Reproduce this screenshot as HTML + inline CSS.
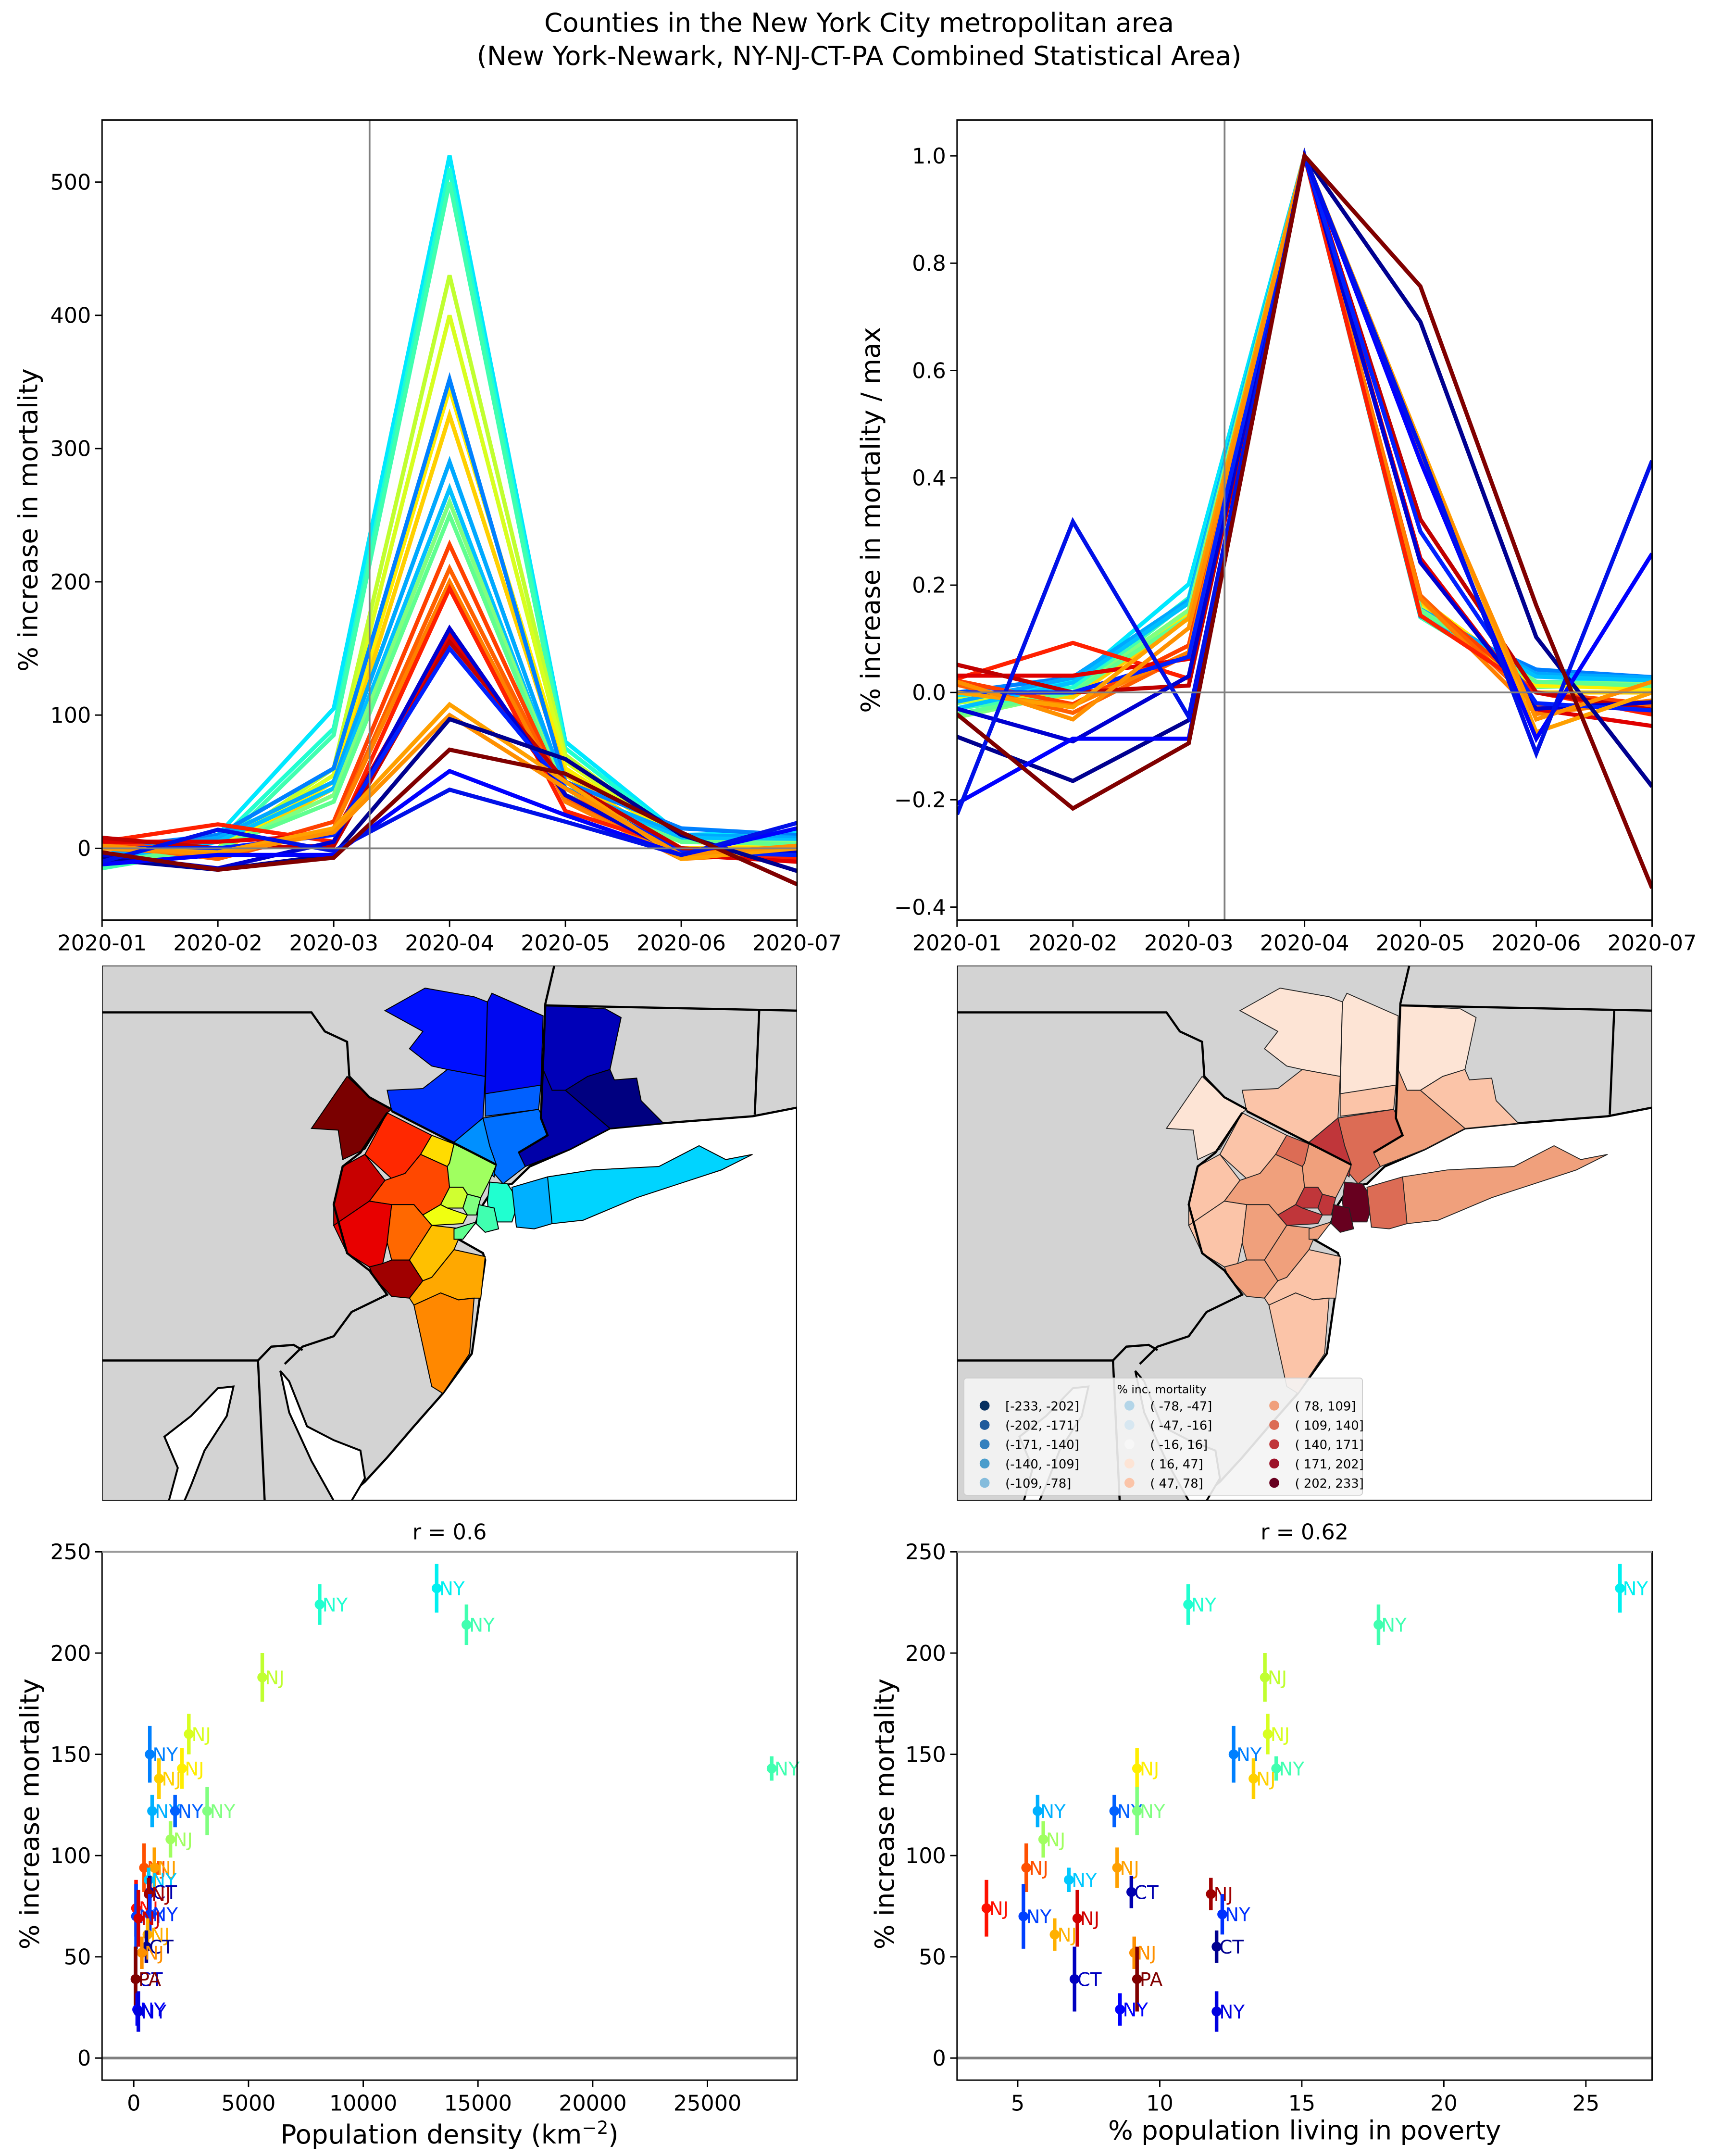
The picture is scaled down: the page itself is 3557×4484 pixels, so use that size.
<!DOCTYPE html>
<html><head><meta charset="utf-8">
<style>
html,body{margin:0;padding:0;background:#fff;}
svg{display:block;}
text{font-family:"DejaVu Sans","Liberation Sans",sans-serif;}
</style></head>
<body>
<svg id="fig" xmlns="http://www.w3.org/2000/svg" width="3557" height="4484" viewBox="0 0 1240 1563" preserveAspectRatio="none">
<rect x="0" y="0" width="1240" height="1563" fill="#fff"/>
<text x="623" y="23" font-size="19" text-anchor="middle">Counties in the New York City metropolitan area</text>
<text x="623" y="47" font-size="19" text-anchor="middle">(New York-Newark, NY-NJ-CT-PA Combined Statistical Area)</text>
<defs>
<clipPath id="clipL"><rect x="74" y="87" width="504" height="580"/></clipPath>
<clipPath id="clipR"><rect x="694" y="87" width="504" height="580"/></clipPath>
<clipPath id="clipM1"><rect x="74" y="700" width="504" height="388"/></clipPath>
<clipPath id="clipM2"><rect x="694" y="700" width="504" height="388"/></clipPath>
</defs>
<g id="gTL"></g>
<g id="gTR"></g>
<g id="gM1" clip-path="url(#clipM1)"></g>
<g id="gM2" clip-path="url(#clipM2)"></g>
<g id="gBL"></g>
<g id="gBR"></g>
</svg>
<script>
// ===== line chart data =====
const months = ["2020-01","2020-02","2020-03","2020-04","2020-05","2020-06","2020-07"];
const yTicksTop = [0,100,200,300,400,500];
const yTicksNorm = [-0.4,-0.2,0.0,0.2,0.4,0.6,0.8,1.0];
const seriesColors = ["#00e8ff","#20ffd0","#40ffb0","#c0ff30","#d8ff20","#ffee00","#ffd000","#0080ff","#00a8ff","#00c0ff","#80ff80","#60ff90","#ff4000","#ff6000","#ff8000","#ff2000","#e00000","#c00000","#0000d0","#0020ff","#ffa000","#ff9000","#000090","#0000ff","#0010e8","#800000"];
const seriesValues = [
 [-5,10,105,520,80,10,12],
 [-10,5,90,510,75,8,10],
 [-15,0,85,500,70,5,8],
 [-8,0,60,430,70,5,5],
 [-5,0,55,400,65,5,3],
 [0,-2,50,345,60,5,2],
 [0,-3,45,325,55,0,0],
 [0,10,60,352,50,15,10],
 [-5,8,50,290,45,10,8],
 [-8,5,45,270,40,8,6],
 [-12,0,40,260,40,5,4],
 [-10,0,35,250,38,5,3],
 [5,-5,20,228,40,0,-5],
 [3,-8,15,210,38,-5,-5],
 [0,-5,15,200,35,-8,-3],
 [5,18,5,195,28,0,-8],
 [5,5,10,160,40,-5,-10],
 [8,0,2,155,50,0,-5],
 [-5,-15,5,165,40,-5,-3],
 [0,0,10,150,45,-3,-5],
 [0,-3,15,108,50,-8,0],
 [2,-5,12,100,45,-5,2],
 [-8,-16,-5,97,67,10,-17],
 [-12,-5,-5,58,25,-5,15],
 [-10,14,-2,44,20,-5,19],
 [-3,-16,-7,74,56,12,-27]
];
// ===== scatter data =====
const density = [13200,8100,14500,5600,2400,700,2100,27800,1100,800,1800,3200,1600,450,900,650,700,650,100,700,100,200,600,550,350,80,80,150,200];
const poverty = [26.2,11.0,17.7,13.7,13.8,12.6,9.2,14.1,13.3,5.7,8.4,9.2,5.9,5.3,8.5,6.8,9.0,11.8,3.9,12.2,5.2,7.1,6.3,12.0,9.1,7.0,9.2,8.6,12.0];
const mortality = [232,224,214,188,160,150,143,143,138,122,122,122,108,94,94,88,82,81,74,71,70,69,61,55,52,39,39,24,23];
const errHalf = [12,10,10,12,10,14,10,6,10,8,8,12,9,12,10,6,8,8,14,10,16,14,8,8,8,16,16,8,10];
const pointColors = ["#00f0f0","#20ffd0","#40ffb0","#c0ff30","#d8ff20","#0080ff","#ffee00","#40ffb0","#ffd000","#00b0ff","#0060ff","#80ff80","#a0ff60","#ff5000","#ffa000","#00c8ff","#0000b0","#a00000","#ff1000","#0030ff","#0040ff","#d00000","#ffb000","#000090","#ff9000","#0000c0","#800000","#0000ff","#0000e0"];
const states = ["NY","NY","NY","NJ","NJ","NY","NJ","NY","NJ","NY","NY","NY","NJ","NJ","NJ","NY","CT","NJ","NJ","NY","NY","NJ","NJ","CT","NJ","CT","PA","NY","NY"];
const densityTicks = [0,5000,10000,15000,20000,25000];
const povertyTicks = [5,10,15,20,25];
const scatterYTicks = [0,50,100,150,200,250];
// ===== map data =====
const countyJet = ["#0010ff","#0008f0","#0030ff","#0060ff","#0090ff","#0070ff","#0000b8","#0000a8","#000080","#7a0000","#ff2800","#c80000","#ff4800","#ffdc00","#a0ff60","#d0ff30","#80ff80","#f0ff10","#e80000","#ff6800","#a00000","#ffc000","#ffa800","#ff8800","#60ff90","#20ffd0","#40ffb0","#00b0ff","#00d4ff"];
const countyMortality = [30,30,60,60,150,122,30,90,60,30,60,60,94,122,94,150,150,150,60,94,94,94,60,60,94,220,220,122,94];

const NS="http://www.w3.org/2000/svg";
function mk(tag,a,parent){const e=document.createElementNS(NS,tag);for(const k in a)e.setAttribute(k,a[k]);parent.appendChild(e);return e;}
function txt(s,a,parent){const e=mk("text",a,parent);e.textContent=s;return e;}
function fmt(v){return (v<0?"\u2212":"")+Math.abs(v).toFixed(1);}

function lineChart(g, x0, clip, yFn, values, ticks, tickFmt, ylabel, ylabX, vline, isNorm){
  const xFn=i=>x0+i*84;
  const lines=mk("g",{"clip-path":"url(#"+clip+")"},g);
  values.forEach((vals,si)=>{
    const peak=vals[3];
    const pts=vals.map((v,i)=>xFn(i).toFixed(1)+","+yFn(isNorm? v/peak : v).toFixed(1)).join(" ");
    const pl=mk("polyline",{points:pts,fill:"none",stroke:seriesColors[si],"stroke-width":3,"stroke-linejoin":"miter"},lines);
    
    
  });
  const zl=mk("line",{x1:x0,x2:x0+504,y1:yFn(0),y2:yFn(0),stroke:"#808080","stroke-width":1.3},g);
  
  
  const vl=mk("line",{x1:vline,x2:vline,y1:87,y2:667,stroke:"#808080","stroke-width":1.3},g);
  
  
  const fr=mk("rect",{x:x0,y:87,width:504,height:580,fill:"none",stroke:"#000","stroke-width":1},g);
  
  
  months.forEach((m,i)=>{
    mk("line",{x1:xFn(i),x2:xFn(i),y1:667,y2:672,stroke:"#000"},g);
    const t=txt(m,{x:xFn(i),y:689,"font-size":15.5,"text-anchor":"middle"},g);
    
    
  });
  ticks.forEach(v=>{
    const y=yFn(v);
    mk("line",{x1:x0-5,x2:x0,y1:y,y2:y,stroke:"#000"},g);
    const t=txt(tickFmt(v),{x:x0-8,y:y+5.5,"font-size":15.5,"text-anchor":"end"},g);
    
    
  });
  const yl=txt(ylabel,{x:0,y:0,"font-size":19,"text-anchor":"middle",transform:"translate("+ylabX+",377) rotate(-90)"},g);
  
  
}
lineChart(document.getElementById("gTL"),74,"clipL",v=>615-v*0.966,seriesValues,yTicksTop,v=>String(v),"% increase in mortality",27,268,false);
lineChart(document.getElementById("gTR"),694,"clipR",v=>502-v*389,seriesValues,yTicksNorm,fmt,"% increase in mortality / max",638,888,true);

const polys=[
 "635,130 725,65 835,90 865,105 860,320 775,300 740,290 690,240 720,190",
 "875,80 990,145 985,350 860,370 865,105",
 "640,360 720,355 775,300 860,320 855,440 790,510 650,420",
 "860,370 985,345 980,415 860,435",
 "790,510 855,440 870,520 885,575 880,610",
 "855,440 980,415 990,440 1000,490 935,540 950,580 900,630 880,600 885,575 870,520",
 "995,115 1130,125 1165,150 1140,300 1090,320 1040,360 1010,360 990,300",
 "990,300 1010,360 1040,360 1140,470 1050,530 950,580 935,540 1000,490 985,440",
 "1040,360 1090,320 1140,300 1150,330 1200,325 1210,390 1260,455 1140,470",
 "470,470 550,320 600,380 650,415 640,425 590,530 540,560 530,475",
 "640,425 740,490 715,545 680,600 650,615 590,545",
 "590,545 635,620 600,680 520,750 520,690 540,580",
 "635,620 680,600 715,545 775,580 780,640 760,690 720,720 700,690 650,690 600,680",
 "715,545 740,490 790,515 780,570 775,580",
 "790,515 885,575 870,620 850,670 820,660 810,640 780,640 775,580 780,570",
 "760,690 780,640 810,640 820,660 810,700 775,700",
 "820,660 850,670 840,720 820,720 810,700",
 "720,720 760,690 775,700 820,720 810,745 740,750",
 "520,750 600,680 650,690 640,800 630,860 600,870 550,830",
 "650,690 700,690 720,720 740,750 720,790 690,850 650,850 640,800",
 "600,870 630,860 650,850 690,850 720,910 690,960 650,955 610,900",
 "690,850 720,790 740,750 810,760 790,820 740,900 720,910",
 "720,910 740,900 790,820 860,840 850,960 830,960 800,965 760,945 700,980 690,960",
 "700,980 760,945 800,965 835,960 825,1120 765,1235 740,1215",
 "790,760 840,740 810,790 790,790",
 "870,625 910,630 935,680 920,740 870,740 865,680",
 "845,690 880,700 890,760 860,770 840,745",
 "920,640 1000,610 1010,680 1010,745 970,760 930,755",
 "1000,610 1100,590 1250,580 1340,520 1400,560 1460,545 1390,590 1200,670 1080,735 1010,745"
];
const ocean="1560,410 1460,435 1260,455 1140,470 1050,530 960,580 920,630 880,640 850,700 840,740 800,790 855,830 860,850 830,1120 765,1235 700,1330 640,1420 590,1490 540,1545 1560,1545";
const bay="400,1170 420,1290 470,1430 520,1545 560,1545 590,1480 580,1400 520,1370 460,1330 420,1200";
const chesa="140,1360 200,1300 260,1220 295,1215 280,1300 230,1400 200,1500 185,1545 150,1545 170,1450";
const stateLines=["0,135 470,135 500,190 550,220 555,320 600,380 650,415","650,420 885,575","640,425 580,540 540,580 520,690 550,830 600,880 640,950 560,1000 520,1070 450,1100 410,1150","1015,0 995,110 985,440 1000,490 935,540","995,115 1560,130","1475,130 1465,430","0,1140 350,1140 365,1545","350,1140 380,1100 430,1095 450,1110"];
function rdbu(v){const bins=[[47,"#fde4d5"],[78,"#fbc4a8"],[109,"#f0a07c"],[140,"#dc6c55"],[171,"#c0363a"],[202,"#9c1229"],[233,"#67001f"]];for(const b of bins)if(v<=b[0])return b[1];return "#67001f";}
function drawMap(g,x0,right){
  mk("rect",{x:x0,y:700,width:504,height:388,fill:"#d3d3d3"},g);
  const t=mk("g",{transform:"translate("+x0+",700) scale("+(504/1560)+","+(388/1545)+")"},g);
  const o=mk("polygon",{points:ocean,fill:"#fff",stroke:"#000","stroke-width":4.5,"vector-effect":"non-scaling-stroke"},t);
  
  
  mk("polygon",{points:bay,fill:"#fff",stroke:"#000","stroke-width":4,"vector-effect":"non-scaling-stroke"},t);
  mk("polygon",{points:chesa,fill:"#fff",stroke:"#000","stroke-width":4,"vector-effect":"non-scaling-stroke"},t);
  polys.forEach((p,i)=>{
    const fill=right?rdbu(countyMortality[i]):countyJet[i];
    const c=mk("polygon",{points:p,fill:fill,stroke:right?"#222":"#000","stroke-width":right?1.8:2,"vector-effect":"non-scaling-stroke"},t);
    
    
  });
  stateLines.forEach(s=>{
    const l=mk("polyline",{points:s,fill:"none",stroke:"#000","stroke-width":4.5,"vector-effect":"non-scaling-stroke"},t);
    
    
  });
  mk("rect",{x:x0,y:700,width:504,height:388,fill:"none",stroke:"#000","stroke-width":1},g);
}
drawMap(document.getElementById("gM1"),74,false);
drawMap(document.getElementById("gM2"),694,true);
const legendLabels=["[-233, -202]","(-202, -171]","(-171, -140]","(-140, -109]","(-109,  -78]","( -78,  -47]","( -47,  -16]","( -16,   16]","(  16,   47]","(  47,   78]","(  78,  109]","( 109,  140]","( 140,  171]","( 171,  202]","( 202,  233]"];
const legendColors=["#053061","#1f5a9c","#3480be","#4a9dcc","#85bcdc","#b3d5e8","#d7e7f1","#f7f7f7","#fde4d5","#fbc4a8","#f0a07c","#dc6c55","#c0363a","#9c1229","#67001f"];
(function(){
  const g=document.getElementById("gM2");
  const lg=mk("g",{},g);
  
  
  mk("rect",{x:699,y:999,width:289,height:85,fill:"#f4f4f4","fill-opacity":0.9,stroke:"#ccc","stroke-width":0.6,rx:2},lg);
  txt("% inc. mortality",{x:810,y:1010,"font-size":8.2},lg);
  legendLabels.forEach((s,i)=>{
    const col=Math.floor(i/5),row=i%5;
    const x=714+col*105,y=1019+row*14;
    const d=mk("circle",{cx:x,cy:y,r:3.6,fill:legendColors[i]},lg);
    
    
    const t=txt(s,{x:x+15,y:y+3.5,"font-size":9,"xml:space":"preserve"},lg);
    
    
  });
})();

function scatter(g,x0,xVals,xFn,xTicks,xlabel,xlabY,title){
  const yFn=v=>1492-v*1.468;
  const zl=mk("line",{x1:x0,x2:x0+504,y1:yFn(0),y2:yFn(0),stroke:"#808080","stroke-width":2},g);
  
  
  mortality.forEach((m,i)=>{
    const x=xFn(xVals[i]),y=yFn(m);
    const eb=mk("line",{x1:x,x2:x,y1:yFn(m-errHalf[i]),y2:yFn(m+errHalf[i]),stroke:pointColors[i],"stroke-width":2.6},g);
    
    
    const c=mk("circle",{cx:x,cy:y,r:3.6,fill:pointColors[i]},g);
    
    
    const t=txt(states[i],{x:x+2,y:y+5,"font-size":13.5,fill:pointColors[i]},g);
    
    
  });
  const fr=mk("rect",{x:x0,y:1125,width:504,height:383,fill:"none",stroke:"#000","stroke-width":1},g);
  
  
  mk("line",{x1:x0,x2:x0+504,y1:1125,y2:1125,stroke:"#999","stroke-width":1.4},g);
  scatterYTicks.forEach(v=>{
    const y=yFn(v);
    mk("line",{x1:x0-5,x2:x0,y1:y,y2:y,stroke:"#000"},g);
    const t=txt(String(v),{x:x0-8,y:y+5.5,"font-size":15.5,"text-anchor":"end"},g);
    
    
  });
  xTicks.forEach(v=>{
    const x=xFn(v);
    mk("line",{x1:x,x2:x,y1:1508,y2:1513,stroke:"#000"},g);
    const t=txt(String(v),{x:x,y:1530,"font-size":15.5,"text-anchor":"middle"},g);
    
    
  });
  const xl=txt(xlabel,{x:x0+252,y:xlabY,"font-size":19,"text-anchor":"middle"},g);
  
  
  const yl=txt("% increase mortality",{x:0,y:0,"font-size":19,"text-anchor":"middle",transform:"translate("+(x0-46)+",1315) rotate(-90)"},g);
  
  
  const tt=txt(title,{x:x0+252,y:1116,"font-size":15.5,"text-anchor":"middle"},g);
  
  
}
scatter(document.getElementById("gBL"),74,density,d=>97+d*0.01664,densityTicks,"",1554,"r = 0.6");
(function(){const g=document.getElementById("gBL");const t=txt("",{x:326,y:1554,"font-size":19,"text-anchor":"middle"},g);
 const a=document.createElementNS(NS,"tspan");a.textContent="Population density (km";t.appendChild(a);
 const b=document.createElementNS(NS,"tspan");b.setAttribute("dy","-7");b.setAttribute("font-size","13");b.textContent="\u22122";t.appendChild(b);
 const c=document.createElementNS(NS,"tspan");c.setAttribute("dy","7");c.textContent=")";t.appendChild(c);})();
scatter(document.getElementById("gBR"),694,poverty,p=>738+(p-5)*20.6,povertyTicks,"% population living in poverty",1551,"r = 0.62");
</script>
</body></html>
